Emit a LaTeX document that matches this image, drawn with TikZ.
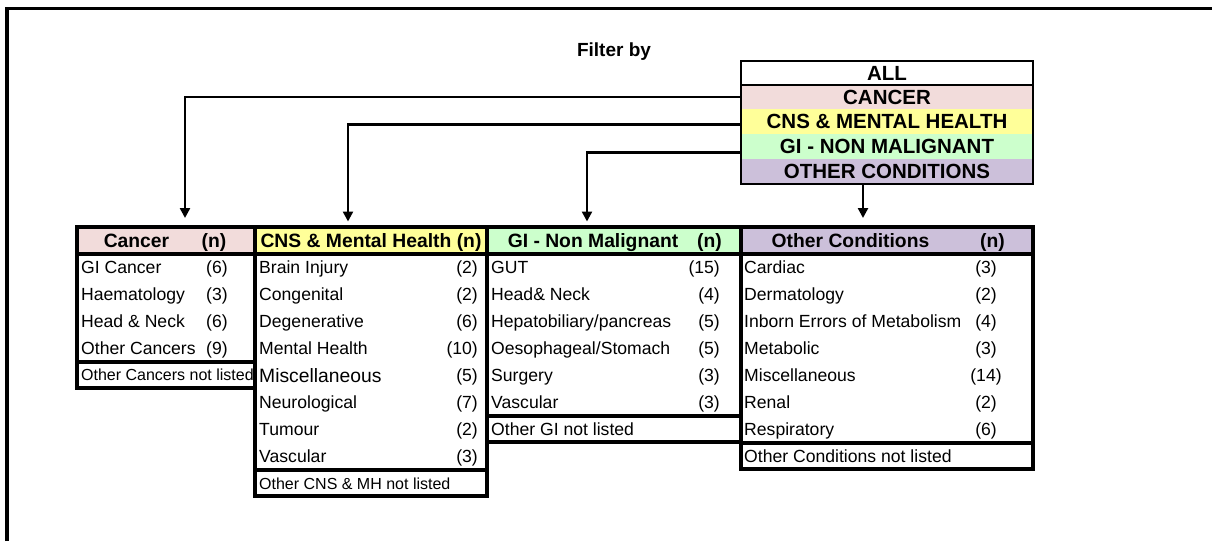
\documentclass[tikz,border=0pt]{standalone}
\usepackage{fontspec}
\setmainfont{Liberation Sans}
\usetikzlibrary{arrows.meta}
\definecolor{cpink}{RGB}{242,220,219}
\definecolor{cyel}{RGB}{255,255,153}
\definecolor{cgreen}{RGB}{204,255,204}
\definecolor{cpurp}{RGB}{204,192,218}
\begin{document}
\begin{tikzpicture}[x=1pt,y=-1pt,
  tb/.style={line width=3.4pt},
  fcell/.style={minimum width=292pt, inner sep=0pt, outer sep=0pt, font=\bfseries\fontsize{20.5}{20}\selectfont},
  hcell/.style={minimum height=27pt, inner sep=0pt, outer sep=0pt},
  htxt/.style={anchor=base, inner sep=0pt, font=\bfseries\fontsize{19.3}{19}\selectfont},
  item/.style={anchor=base west, inner sep=0pt, font=\fontsize{17.6}{18}\selectfont},
  numc/.style={anchor=base, inner sep=0pt, font=\fontsize{17.6}{18}\selectfont},
  nume/.style={anchor=base east, inner sep=0pt, font=\fontsize{17.6}{18}\selectfont},
  arr/.style={line width=2.4pt, -{Triangle[width=10pt,length=10pt]}},
]
\useasboundingbox (0,0) rectangle (1212,541);
% frame
\draw[line width=3.4pt] (7,541) -- (7,8.5) -- (1212,8.5);
\node[anchor=base, inner sep=0pt, font=\bfseries\fontsize{19}{19}\selectfont] (filt) at (614,56) {Filter by};
% filter box
\node[fcell, fill=white, minimum height=24pt] (fall) at (887,73) {ALL};
\node[fcell, fill=cpink, minimum height=24pt] (fcancer) at (887,97) {CANCER};
\node[fcell, fill=cyel, minimum height=25pt] (fcns) at (887,121.5) {CNS \& MENTAL HEALTH};
\node[fcell, fill=cgreen, minimum height=25pt] (fgi) at (887,146.5) {GI - NON MALIGNANT};
\node[fcell, fill=cpurp, minimum height=25pt] (fother) at (887,171.5) {OTHER CONDITIONS};
\draw[line width=2.8pt] (fall.north west) rectangle (fother.south east);
\draw[line width=2.8pt] (fall.south west) -- (fall.south east);
% headers
\node[hcell, fill=cpink, minimum width=178pt] (hcancer) at (166,240.5) {};
\node[hcell, fill=cyel, minimum width=232pt] (hcns) at (371,240.5) {};
\node[hcell, fill=cgreen, minimum width=254pt] (hgi) at (614,240.5) {};
\node[hcell, fill=cpurp, minimum width=292pt] (hother) at (887,240.5) {};
\node[htxt] (hcancert) at (136.5,247.5) {Cancer};
\node[htxt] (hcancern) at (214,247.5) {(n)};
\node[htxt] (hcnst) at (371,247.5) {CNS \& Mental Health (n)};
\node[htxt] (hgit) at (593,247.5) {GI - Non Malignant};
\node[htxt] (hgin) at (709.5,247.5) {(n)};
\node[htxt] (hothert) at (850.5,247.5) {Other Conditions};
\node[htxt] (hothern) at (992.5,247.5) {(n)};
% cancer rows
\foreach \t/\n [count=\i] in {GI Cancer/6, Haematology/3, Head \& Neck/6, Other Cancers/9} {
  \node[item] (ca\i) at (81,{254+27*\i-13.5+6.3}) {\t};
  \node[numc] (can\i) at (217,{254+27*\i-13.5+6.3}) {(\n)};
}
\node[item, font=\fontsize{16}{16}\selectfont] (canl) at (81,380.5) {Other Cancers not listed};
% CNS rows
\foreach \t/\n [count=\i] in {Brain Injury/2, Congenital/2, Degenerative/6, Mental Health/10, {}/5, Neurological/7, Tumour/2, Vascular/3} {
  \node[item] (cn\i) at (259,{254+27*\i-13.5+6.3}) {\t};
  \node[nume] (cnn\i) at (478,{254+27*\i-13.5+6.3}) {(\n)};
}
\node[item, font=\fontsize{19.3}{20}\selectfont] (cnmisc) at (259,{254+27*5-13.5+6.8}) {Miscellaneous};
\node[item, font=\fontsize{16}{17}\selectfont] (cnl) at (259,489) {Other CNS \& MH not listed};
% GI rows
\foreach \t/\n [count=\i] in {GUT/15, Head\& Neck/4, {Hepatobiliary/pancreas}/5, {Oesophageal/Stomach}/5, Surgery/3, Vascular/3} {
  \node[item] (gi\i) at (491,{254+27*\i-13.5+6.3}) {\t};
  \node[nume] (gin\i) at (720,{254+27*\i-13.5+6.3}) {(\n)};
}
\node[item] (gil) at (491,435.3) {Other GI not listed};
% Other rows
\foreach \t/\n [count=\i] in {Cardiac/3, Dermatology/2, Inborn Errors of Metabolism/4, Metabolic/3, Miscellaneous/14, Renal/2, Respiratory/6} {
  \node[item] (ot\i) at (744,{254+27*\i-13.5+6.3}) {\t};
  \node[numc] (otn\i) at (986,{254+27*\i-13.5+6.3}) {(\n)};
}
\node[item] (otl) at (744,462.3) {Other Conditions not listed};
% table borders
\draw[tb] (77,227) rectangle (255,388) (77,254) -- (255,254) (77,362) -- (255,362);
\draw[tb] (255,227) rectangle (487,496) (255,254) -- (487,254) (255,470) -- (487,470);
\draw[tb] (487,227) rectangle (741,442) (487,254) -- (741,254) (487,416) -- (741,416);
\draw[tb] (741,227) rectangle (1033,469) (741,254) -- (1033,254) (741,443) -- (1033,443);
% connectors
\coordinate (a1) at (185,218);
\coordinate (a2) at (348,221.5);
\coordinate (a3) at (587,221.5);
\coordinate (a4) at (863,218);
\draw[arr] ([yshift=0.3pt]fcancer.west) -| (a1);
\draw[arr] ([yshift=-2.8pt]fcns.west) -| (a2);
\draw[arr] ([yshift=-5.8pt]fgi.west) -| (a3);
\draw[arr] (fother.south -| a4) -- (a4);
\end{tikzpicture}
\end{document}
